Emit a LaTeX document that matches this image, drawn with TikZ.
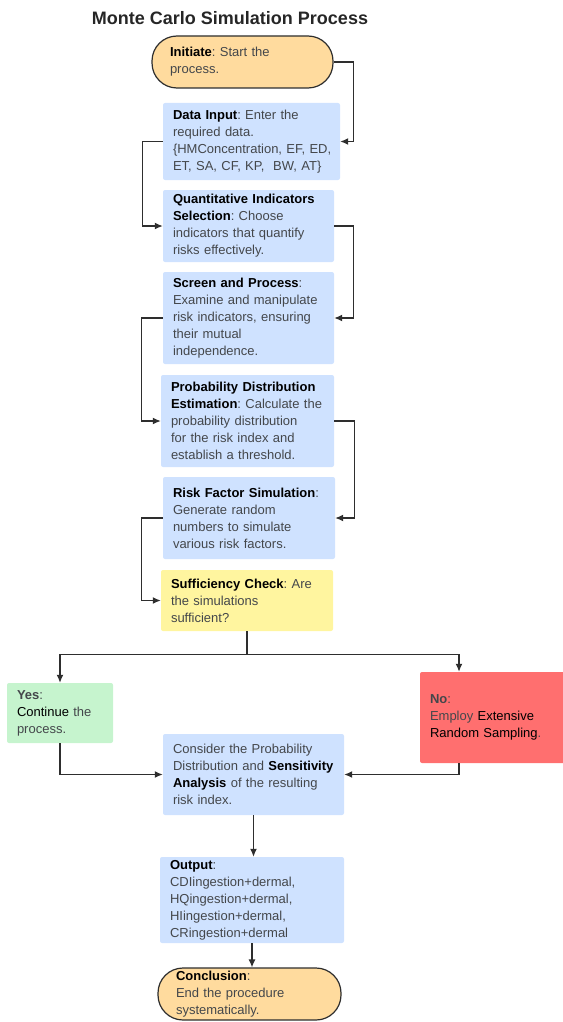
\documentclass[tikz,border=0pt]{standalone}
\usepackage{fontspec}
\setmainfont{Liberation Sans}
\usetikzlibrary{arrows.meta}
\definecolor{stepblue}{HTML}{CFE2FF}
\definecolor{termorange}{HTML}{FFDB9E}
\definecolor{checkyellow}{HTML}{FFF59F}
\definecolor{yesgreen}{HTML}{C6F4CE}
\definecolor{nored}{HTML}{FF6F6F}
\definecolor{txtgray}{HTML}{44474B}
\definecolor{linegray}{HTML}{2E2E2E}
\newcommand{\hd}[1]{\textcolor{black}{\textbf{#1}}}
\newcommand{\dk}[1]{\textcolor{black}{#1}}
\frenchspacing
\begin{document}
\begin{tikzpicture}[x=1pt,y=-1pt,
  stepbox/.style={rectangle,rounded corners=2pt,fill=stepblue,inner xsep=10pt,inner ysep=0pt,align=left,text=txtgray,font=\fontsize{13}{17}\selectfont},
  termbox/.style={stepbox,fill=termorange,draw=linegray,line width=1.2pt,rounded corners=25pt,inner xsep=18pt},
  checkbox/.style={stepbox,fill=checkyellow},
  yesbox/.style={stepbox,fill=yesgreen},
  nobox/.style={stepbox,fill=nored},
  flow/.style={draw=linegray,line width=1.3pt,-{Latex[length=8pt,width=7pt]}}]
\useasboundingbox (0,0) rectangle (562,1022);

\node[font=\fontsize{18}{22}\selectfont\bfseries,text=black!85] (title) at (230,18) {Monte Carlo Simulation Process};

\node[termbox,text width=145pt,minimum height=52pt] (init) at (242.5,62) {\hd{Initiate}: Start the\\process.};
\node[stepbox,text width=157pt,minimum height=77pt] (data) at (251.5,141.5) {\hd{Data Input}: Enter the\\required data.\\\mbox{\{HMConcentration, EF, ED,}\\ET, SA, CF, KP,\ \ BW, AT\}};
\node[stepbox,text width=151pt,minimum height=72pt] (quant) at (248.5,226) {\hd{Quantitative Indicators}\\\hd{Selection}: Choose\\indicators that quantify\\risks effectively.};
\node[stepbox,text width=151pt,minimum height=92pt] (screen) at (248.5,318) {\hd{Screen and Process}:\\Examine and manipulate\\risk indicators, ensuring\\their mutual\\independence.};
\node[stepbox,text width=153pt,minimum height=92pt] (prob) at (247.5,421) {\hd{Probability Distribution}\\\hd{Estimation}: Calculate the\\probability distribution\\for the risk index and\\establish a threshold.};
\node[stepbox,text width=152pt,minimum height=82pt] (risk) at (249,518) {\hd{Risk Factor Simulation}:\\Generate random\\numbers to simulate\\various risk factors.};
\node[checkbox,text width=152pt,minimum height=61pt] (suff) at (247,600.5) {\hd{Sufficiency Check}: Are\\the simulations\\sufficient?};

\node[yesbox,text width=86pt,minimum height=60pt] (yes) at (60,713) {\textbf{Yes}:\\\dk{Continue} the\\process.};
\node[nobox,text width=125pt,minimum height=91pt] (no) at (492.5,717.5) {\textbf{No}:\\Employ \dk{Extensive}\\\dk{Random Sampling}.};

\node[stepbox,text width=161pt,minimum height=81pt] (consider) at (253.5,774.5) {Consider the Probability\\Distribution and \hd{Sensitivity}\\\hd{Analysis} of the resulting\\risk index.};
\node[stepbox,text width=164pt,minimum height=86pt] (output) at (252,900) {\hd{Output}:\\CDIingestion+dermal,\\HQingestion+dermal,\\HIingestion+dermal,\\CRingestion+dermal};
\node[termbox,text width=147pt,minimum height=52pt] (concl) at (249.5,994) {\hd{Conclusion}:\\End the procedure\\systematically.};

% zig-zag connectors down the column
\draw[flow] (init.east) -- ++(20,0) |- (data.east);
\draw[flow] (data.west) -- ++(-20,0) |- (quant.west);
\draw[flow] (quant.east) -- ++(19,0) |- (screen.east);
\draw[flow] (screen.west) -- ++(-21,0) |- (prob.west);
\draw[flow] (prob.east) -- ++(20,0) |- (risk.east);
\draw[flow] (risk.west) -- ++(-21,0) |- (suff.west);

% decision branches
\coordinate (split) at ([yshift=-23pt]suff.south);
\draw[flow] (suff.south) -- (split) -| (yes.north);
\draw[flow] (split) -| ([xshift=-33.5pt]no.north);
\draw[flow] (yes.south) |- (consider.west);
\draw[flow] ([xshift=-33.5pt]no.south) |- (consider.east);

\draw[flow] (consider.south) -- (consider.south |- output.north);
\draw[flow] (output.south) -- (output.south |- concl.north);
\end{tikzpicture}
\end{document}
